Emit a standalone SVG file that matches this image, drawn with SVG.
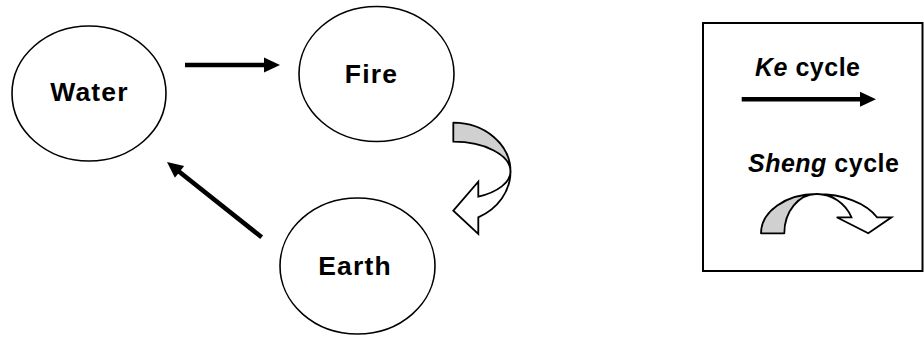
<svg xmlns="http://www.w3.org/2000/svg" width="924" height="339" viewBox="0 0 924 339">
<style>
.node{fill:#fff;stroke:#000;stroke-width:1.6}
.lbl{font-family:"Liberation Sans",Arial,sans-serif;font-weight:bold;font-size:26.5px;letter-spacing:1.2px;fill:#000;text-anchor:middle}
.leg{font-family:"Liberation Sans",Arial,sans-serif;font-weight:bold;font-size:25px;letter-spacing:0.5px;fill:#000}
.ke{stroke:#000;stroke-width:4.6;fill:none}
.sh-back{fill:#d0d0d0;stroke:#000;stroke-width:1.8;stroke-linejoin:round}
.sh-front{fill:#fff;stroke:#000;stroke-width:1.8;stroke-linejoin:miter}
</style>
<defs>
<marker id="ah" markerUnits="userSpaceOnUse" markerWidth="17" markerHeight="16" refX="4" refY="7.5" orient="auto" overflow="visible">
<path d="M0,0 L16,7.5 L0,15 Z" fill="#000"/>
</marker>
</defs>
<rect width="924" height="339" fill="#fff"/>
<g id="water">
<ellipse class="node" cx="89" cy="93.5" rx="77" ry="67.5"/>
<text class="lbl" x="89.5" y="100.7">Water</text>
</g>
<g id="fire">
<ellipse class="node" cx="376.5" cy="74" rx="77.5" ry="67.5"/>
<text class="lbl" x="371.5" y="82.5">Fire</text>
</g>
<g id="earth">
<ellipse class="node" cx="357.5" cy="266" rx="77.5" ry="68"/>
<text class="lbl" x="355" y="275">Earth</text>
</g>
<g id="connectors">
<line class="ke" x1="185" y1="65" x2="268" y2="65" marker-end="url(#ah)"/>
<line class="ke" x1="261.7" y1="237.3" x2="176.4" y2="169.5" marker-end="url(#ah)"/>
<path class="sh-back" d="M453.3,122.7 A57.2,48.8 0 0 1 510.5,171.5 A57.2,29.8 0 0 0 453.3,141.7 Z"/>
<path class="sh-front" d="M510.5,171.5 A57.2,28 0 0 1 478.3,196.7 L478.3,181.7 L453.3,210.7 L478.3,234 L478.3,217.3 A57.2,50.9 0 0 0 510.5,171.5 Z"/>
</g>
<g id="legend">
<rect x="703" y="23" width="219.5" height="248" fill="none" stroke="#000" stroke-width="2"/>
<text class="leg" x="755" y="75.5"><tspan font-style="italic">Ke</tspan> cycle</text>
<line class="ke" x1="741.7" y1="99.3" x2="864" y2="99.3" marker-end="url(#ah)"/>
<text class="leg" x="748" y="171.5"><tspan font-style="italic">Sheng</tspan> cycle</text>
<path class="sh-back" d="M761,233.3 A55.5,39.3 0 0 1 816.5,194 A32,39.3 0 0 0 784.3,233.3 Z"/>
<path class="sh-front" d="M816.5,194 A66,39.3 0 0 1 877,217.3 L891.5,217.3 L868.3,233.3 L836.7,217.3 L851.5,217.3 A38,39.3 0 0 0 816.5,194 Z"/>
</g>
</svg>
